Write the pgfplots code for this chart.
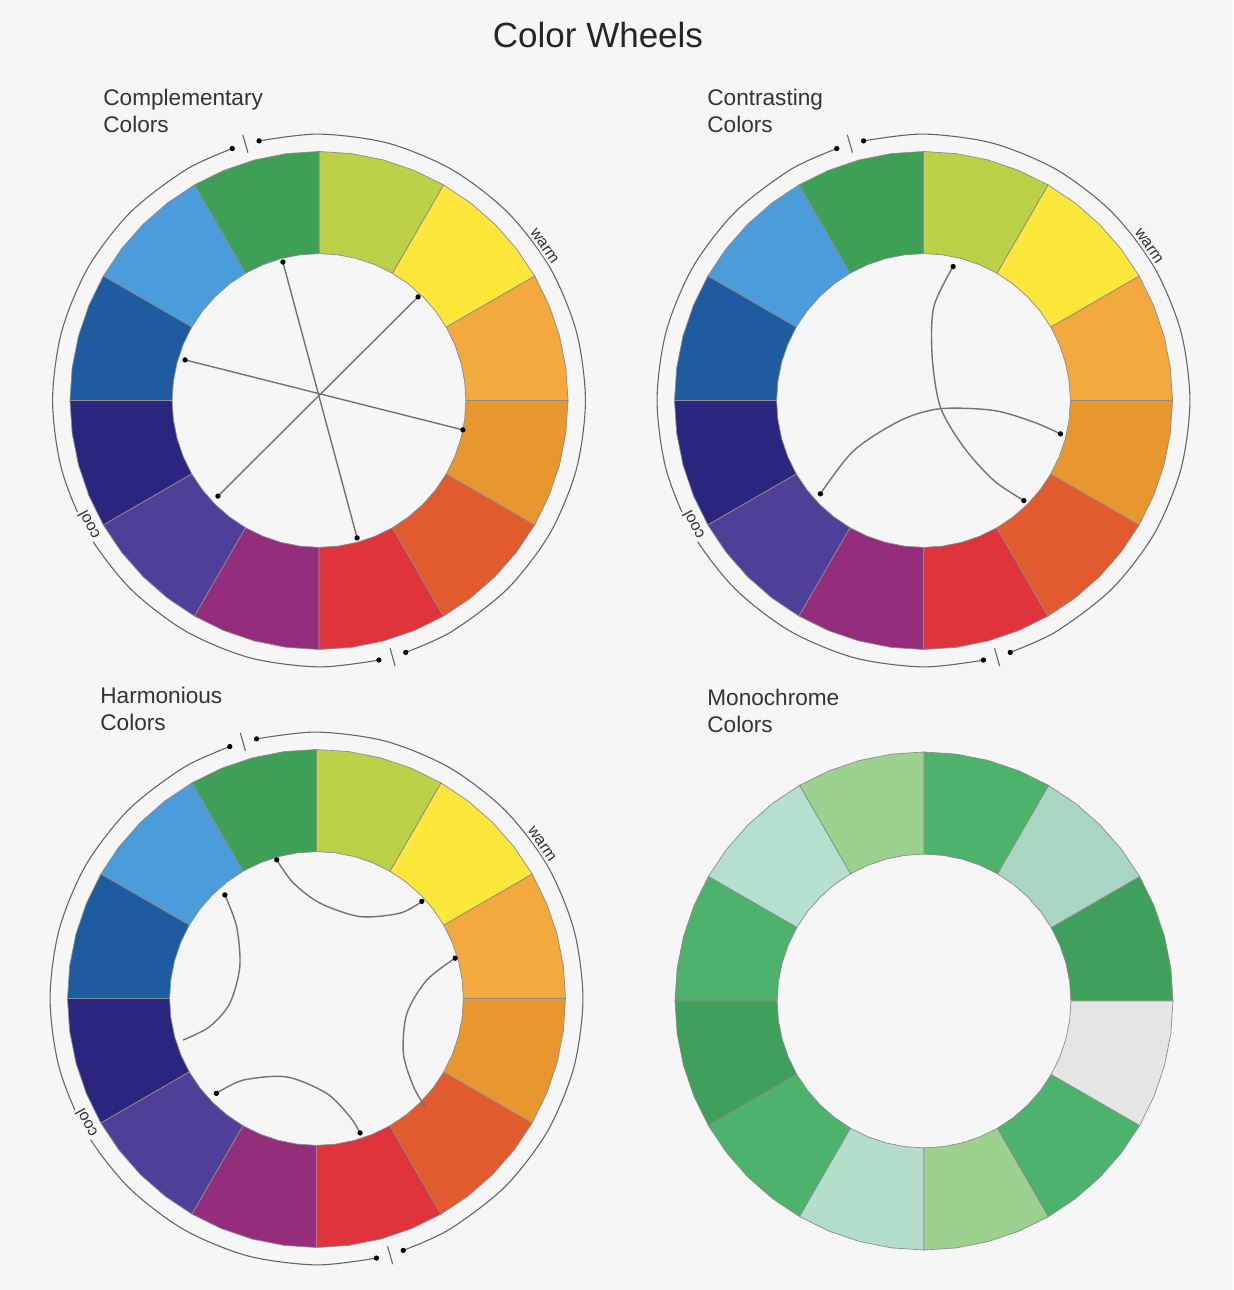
\documentclass[border=0pt]{standalone}
\usepackage{pgfplots}
\pgfplotsset{compat=1.18}
\usepackage{pgfplotstable}
\usepgfplotslibrary{polar}
\usepackage{fontspec}
\setmainfont{Liberation Sans}

% colour wheel, segments counter-clockwise from 0 deg
\definecolor{cw0}{HTML}{F4A93F}
\definecolor{cw1}{HTML}{FDE73B}
\definecolor{cw2}{HTML}{BCD147}
\definecolor{cw3}{HTML}{3E9F57}
\definecolor{cw4}{HTML}{4B9CDB}
\definecolor{cw5}{HTML}{1F5BA0}
\definecolor{cw6}{HTML}{2A2680}
\definecolor{cw7}{HTML}{4F3F98}
\definecolor{cw8}{HTML}{932D7C}
\definecolor{cw9}{HTML}{E0343C}
\definecolor{cw10}{HTML}{E15B2F}
\definecolor{cw11}{HTML}{E8962F}
% monochrome wheel
\definecolor{mw0}{HTML}{3FA05B}
\definecolor{mw1}{HTML}{A9D6C2}
\definecolor{mw2}{HTML}{4DB26B}
\definecolor{mw3}{HTML}{9DD18F}
\definecolor{mw4}{HTML}{B5DFCE}
\definecolor{mw5}{HTML}{4DB26B}
\definecolor{mw6}{HTML}{3FA05B}
\definecolor{mw7}{HTML}{4DB26B}
\definecolor{mw8}{HTML}{B2DECB}
\definecolor{mw9}{HTML}{9DD18F}
\definecolor{mw10}{HTML}{4DB26B}
\definecolor{mw11}{HTML}{E3E6E3}
\definecolor{bg}{HTML}{F6F6F6}
\definecolor{ink}{HTML}{333333}

% ring segments: angle, radius, segment index
\pgfplotstableread[row sep=\\]{
a r s\\
0 1 0\\ 7.5 1 0\\ 15 1 0\\ 22.5 1 0\\ 30 1 0\\ 30 0.59 0\\ 22.5 0.59 0\\ 15 0.59 0\\ 7.5 0.59 0\\ 0 0.59 0\\
30 1 1\\ 37.5 1 1\\ 45 1 1\\ 52.5 1 1\\ 60 1 1\\ 60 0.59 1\\ 52.5 0.59 1\\ 45 0.59 1\\ 37.5 0.59 1\\ 30 0.59 1\\
60 1 2\\ 67.5 1 2\\ 75 1 2\\ 82.5 1 2\\ 90 1 2\\ 90 0.59 2\\ 82.5 0.59 2\\ 75 0.59 2\\ 67.5 0.59 2\\ 60 0.59 2\\
90 1 3\\ 97.5 1 3\\ 105 1 3\\ 112.5 1 3\\ 120 1 3\\ 120 0.59 3\\ 112.5 0.59 3\\ 105 0.59 3\\ 97.5 0.59 3\\ 90 0.59 3\\
120 1 4\\ 127.5 1 4\\ 135 1 4\\ 142.5 1 4\\ 150 1 4\\ 150 0.59 4\\ 142.5 0.59 4\\ 135 0.59 4\\ 127.5 0.59 4\\ 120 0.59 4\\
150 1 5\\ 157.5 1 5\\ 165 1 5\\ 172.5 1 5\\ 180 1 5\\ 180 0.59 5\\ 172.5 0.59 5\\ 165 0.59 5\\ 157.5 0.59 5\\ 150 0.59 5\\
180 1 6\\ 187.5 1 6\\ 195 1 6\\ 202.5 1 6\\ 210 1 6\\ 210 0.59 6\\ 202.5 0.59 6\\ 195 0.59 6\\ 187.5 0.59 6\\ 180 0.59 6\\
210 1 7\\ 217.5 1 7\\ 225 1 7\\ 232.5 1 7\\ 240 1 7\\ 240 0.59 7\\ 232.5 0.59 7\\ 225 0.59 7\\ 217.5 0.59 7\\ 210 0.59 7\\
240 1 8\\ 247.5 1 8\\ 255 1 8\\ 262.5 1 8\\ 270 1 8\\ 270 0.59 8\\ 262.5 0.59 8\\ 255 0.59 8\\ 247.5 0.59 8\\ 240 0.59 8\\
270 1 9\\ 277.5 1 9\\ 285 1 9\\ 292.5 1 9\\ 300 1 9\\ 300 0.59 9\\ 292.5 0.59 9\\ 285 0.59 9\\ 277.5 0.59 9\\ 270 0.59 9\\
300 1 10\\ 307.5 1 10\\ 315 1 10\\ 322.5 1 10\\ 330 1 10\\ 330 0.59 10\\ 322.5 0.59 10\\ 315 0.59 10\\ 307.5 0.59 10\\ 300 0.59 10\\
330 1 11\\ 337.5 1 11\\ 345 1 11\\ 352.5 1 11\\ 360 1 11\\ 360 0.59 11\\ 352.5 0.59 11\\ 345 0.59 11\\ 337.5 0.59 11\\ 330 0.59 11\\
}\ring

\pgfplotsset{
  wheel/.style={scale only axis, width=311.25pt, height=311.25pt,
    xmin=-1.25, xmax=1.25, ymin=-1.25, ymax=1.25,
    hide axis, clip=false, anchor=center},
  seg/.style={draw=black!45, line width=0.35pt, data cs=polar},
  guide/.style={draw=black!55, line width=0.7pt, no markers},
  tip/.style={only marks, mark=*, mark size=1.1pt, black},
  rim/.style={draw=black!60, line width=0.55pt, data cs=polar, no markers},
}

\newcommand\ringplots[1]{%
  \pgfplotsinvokeforeach{0,...,11}{%
    \addplot[seg, fill=#1##1] table[x=a, y=r,
      restrict expr to domain={\thisrow{s}}{##1:##1}] {\ring} -- cycle;
  }}

\newcommand\rimplots{%
  \addplot[rim, smooth] coordinates {(109,1.07) (120,1.07) (135,1.07) (150,1.07)
    (165,1.07) (180,1.07) (195,1.07) (210,1.07) (225,1.07) (240,1.07)
    (255,1.07) (270,1.07) (283,1.07)};
  \addplot[rim, smooth] coordinates {(-71,1.07) (-60,1.07) (-45,1.07) (-30,1.07)
    (-15,1.07) (0,1.07) (15,1.07) (30,1.07) (45,1.07) (60,1.07)
    (75,1.07) (90,1.07) (103,1.07)};
  \addplot[rim] coordinates {(106,1.035) (106,1.11)};
  \addplot[rim] coordinates {(286,1.035) (286,1.11)};
  \addplot[tip, data cs=polar] coordinates {(109,1.07) (103,1.07) (283,1.07) (289,1.07)};
  \node[rotate=-56, fill=bg, inner sep=1pt, text=ink,
    font=\fontsize{8}{9}\selectfont] at (axis cs:0.905,0.62) {warm};
  \node[rotate=118, fill=bg, inner sep=1pt, text=ink,
    font=\fontsize{8}{9}\selectfont] at (axis cs:-0.925,-0.5) {cool};
}

\begin{document}
\begin{tikzpicture}
\fill[bg] (0,0) rectangle (616.5pt,645pt);
\useasboundingbox (0,0) rectangle (616.5pt,645pt);

\node[font=\fontsize{17.5}{20}\selectfont, text=black!85] at (299pt,627.5pt) {Color Wheels};

\begin{scope}[every node/.append style={font=\fontsize{11.3}{13.5}\selectfont, text=ink, align=left, anchor=west, inner sep=0pt}]
\node at (51.5pt,589.75pt) {Complementary\\Colors};
\node at (353.5pt,589.75pt) {Contrasting\\Colors};
\node at (50pt,290.75pt) {Harmonious\\Colors};
\node at (353.5pt,289.75pt) {Monochrome\\Colors};
\end{scope}

% complementary
\begin{axis}[wheel, at={(159.5pt,444.75pt)}]
\ringplots{cw}
\rimplots
\addplot[guide] coordinates {(-0.538,0.163) (0.578,-0.118)};
\addplot[guide] coordinates {(-0.145,0.556) (0.153,-0.552)};
\addplot[guide] coordinates {(0.398,0.416) (-0.406,-0.384)};
\addplot[tip] coordinates {(-0.538,0.163) (0.578,-0.118) (-0.145,0.556)
  (0.153,-0.552) (0.398,0.416) (-0.406,-0.384)};
\end{axis}

% contrasting
\begin{axis}[wheel, at={(461.75pt,444.75pt)}]
\ringplots{cw}
\rimplots
\addplot[guide, smooth] coordinates {(0.119,0.538) (0.041,0.375) (0.035,0.174)
  (0.068,-0.027) (0.162,-0.188) (0.282,-0.321) (0.403,-0.402)};
\addplot[guide, smooth] coordinates {(-0.414,-0.375) (-0.280,-0.201) (-0.092,-0.080)
  (0.068,-0.033) (0.282,-0.040) (0.443,-0.087) (0.550,-0.134)};
\addplot[tip] coordinates {(0.119,0.538) (0.403,-0.402) (-0.414,-0.375) (0.550,-0.134)};
\end{axis}

% harmonious
\begin{axis}[wheel, at={(158.25pt,145.75pt)}]
\ringplots{cw}
\rimplots
\addplot[guide, smooth] coordinates {(-0.160,0.557) (-0.093,0.464) (0.014,0.383)
  (0.175,0.329) (0.336,0.343) (0.423,0.390)};
\addplot[guide, smooth] coordinates {(-0.368,0.416) (-0.321,0.289) (-0.308,0.128)
  (-0.348,-0.019) (-0.429,-0.113) (-0.536,-0.167)};
\addplot[guide, smooth] coordinates {(-0.402,-0.381) (-0.295,-0.328) (-0.120,-0.315)
  (0.041,-0.381) (0.135,-0.476) (0.175,-0.540)};
\addplot[guide, smooth] coordinates {(0.557,0.162) (0.443,0.074) (0.363,-0.060)
  (0.349,-0.221) (0.390,-0.355) (0.437,-0.435)};
\addplot[tip] coordinates {(-0.160,0.557) (0.423,0.390) (-0.368,0.416)
  (-0.402,-0.381) (0.175,-0.540) (0.557,0.162)};
\end{axis}

% monochrome
\begin{axis}[wheel, at={(462pt,144.5pt)}]
\ringplots{mw}
\end{axis}
\end{tikzpicture}
\end{document}
